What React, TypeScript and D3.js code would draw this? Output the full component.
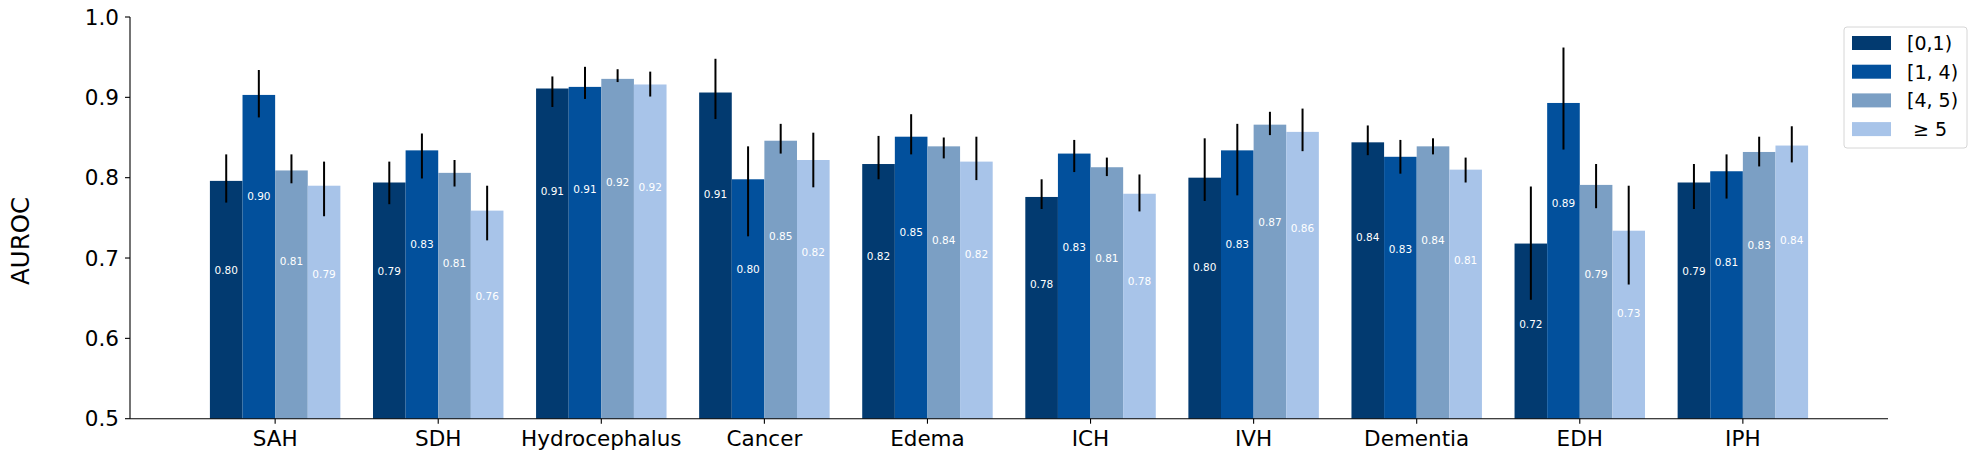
import React from "react";
import * as d3 from "d3";

// categories on the x axis
const categories = [
  "SAH",
  "SDH",
  "Hydrocephalus",
  "Cancer",
  "Edema",
  "ICH",
  "IVH",
  "Dementia",
  "EDH",
  "IPH",
];

const seriesNames = ["[0,1)", "[1, 4)", "[4, 5)", " \u2265 5"];
const seriesColors = ["#023a70", "#02509c", "#7b9fc4", "#a8c4e9"];

// AUROC per series, one value per category
const auroc = [
  [0.796, 0.794, 0.911, 0.906, 0.817, 0.776, 0.8, 0.844, 0.718, 0.794],
  [0.903, 0.834, 0.913, 0.798, 0.851, 0.83, 0.834, 0.826, 0.893, 0.808],
  [0.809, 0.806, 0.923, 0.846, 0.839, 0.813, 0.866, 0.839, 0.791, 0.832],
  [0.79, 0.759, 0.916, 0.822, 0.82, 0.78, 0.857, 0.81, 0.734, 0.84],
];

// confidence interval bounds
const ciLow = [
  [0.769, 0.767, 0.888, 0.873, 0.798, 0.761, 0.771, 0.828, 0.648, 0.761],
  [0.875, 0.799, 0.898, 0.727, 0.829, 0.807, 0.778, 0.805, 0.835, 0.774],
  [0.793, 0.789, 0.919, 0.83, 0.824, 0.802, 0.853, 0.829, 0.762, 0.814],
  [0.752, 0.722, 0.901, 0.788, 0.797, 0.758, 0.833, 0.794, 0.667, 0.819],
];
const ciHigh = [
  [0.829, 0.82, 0.926, 0.948, 0.852, 0.798, 0.849, 0.865, 0.789, 0.817],
  [0.934, 0.855, 0.938, 0.839, 0.879, 0.847, 0.867, 0.847, 0.962, 0.829],
  [0.829, 0.822, 0.935, 0.867, 0.85, 0.825, 0.882, 0.849, 0.817, 0.851],
  [0.82, 0.79, 0.932, 0.856, 0.851, 0.804, 0.886, 0.825, 0.79, 0.864],
];

const yTicks = [0.5, 0.6, 0.7, 0.8, 0.9, 1.0];

const W = 1976;
const H = 459;
const FONT = "DejaVu Sans, sans-serif";

export default function App() {
  const margin = { left: 130, right: 88, top: 17, bottom: 40 };
  const plotRight = W - margin.right;
  const plotBottom = H - margin.bottom - 0.3;

  const x0 = d3
    .scaleBand<string>()
    .domain(categories)
    .range([margin.left, plotRight])
    .paddingInner(0.2)
    .paddingOuter(0.49);

  const x1 = d3
    .scaleBand<number>()
    .domain(d3.range(seriesNames.length))
    .range([0, x0.bandwidth()]);

  const y = d3.scaleLinear().domain([0.5, 1.0]).range([plotBottom, margin.top]);

  const legendX = 1844;
  const legendY = 27;
  const rowH = 28.7;

  return (
    <div>
      <style>{`body{margin:0}`}</style>
      <svg width={W} height={H} style={{ display: "block", fontFamily: FONT }}>
        <rect width={W} height={H} fill="#fff" />

        {/* bars */}
        {seriesNames.map((_, s) =>
          categories.map((c, i) => {
            const v = auroc[s][i];
            const bx = (x0(c) ?? 0) + (x1(s) ?? 0);
            const bw = x1.bandwidth();
            return (
              <g key={`${s}-${i}`}>
                <rect
                  x={bx}
                  y={y(v)}
                  width={bw}
                  height={y(0.5) - y(v)}
                  fill={seriesColors[s]}
                />
                <line
                  x1={bx + bw / 2}
                  x2={bx + bw / 2}
                  y1={y(ciLow[s][i])}
                  y2={y(ciHigh[s][i])}
                  stroke="#000"
                  strokeWidth={2}
                />
                <text
                  x={bx + bw / 2}
                  y={y(v * 0.86)}
                  dy="0.35em"
                  textAnchor="middle"
                  fontSize={10.5}
                  fill="#fff"
                >
                  {v.toFixed(2)}
                </text>
              </g>
            );
          })
        )}

        {/* y axis */}
        <line
          x1={margin.left}
          x2={margin.left}
          y1={margin.top}
          y2={plotBottom}
          stroke="#000"
          strokeWidth={1.1}
        />
        {yTicks.map((t) => (
          <g key={t}>
            <line
              x1={margin.left - 5}
              x2={margin.left}
              y1={y(t)}
              y2={y(t)}
              stroke="#000"
              strokeWidth={1.1}
            />
            <text
              x={margin.left - 11}
              y={y(t)}
              dy="0.36em"
              textAnchor="end"
              fontSize={21.5}
              fill="#000"
            >
              {t.toFixed(1)}
            </text>
          </g>
        ))}
        <text
          transform={`translate(29,241) rotate(-90)`}
          textAnchor="middle"
          fontSize={24.5}
          fill="#000"
        >
          AUROC
        </text>

        {/* x axis */}
        <line
          x1={margin.left}
          x2={plotRight}
          y1={plotBottom}
          y2={plotBottom}
          stroke="#000"
          strokeWidth={1.1}
        />
        {categories.map((c) => {
          const cx = (x0(c) ?? 0) + x0.bandwidth() / 2;
          return (
            <g key={c}>
              <line
                x1={cx}
                x2={cx}
                y1={plotBottom}
                y2={plotBottom + 5}
                stroke="#000"
                strokeWidth={1.1}
              />
              <text x={cx} y={446} textAnchor="middle" fontSize={21.5} fill="#000">
                {c}
              </text>
            </g>
          );
        })}

        {/* legend */}
        <rect
          x={legendX}
          y={legendY}
          width={123}
          height={121}
          rx={3}
          fill="#fff"
          fillOpacity={0.8}
          stroke="#d6d6d6"
          strokeWidth={1}
        />
        {seriesNames.map((name, s) => (
          <g key={name}>
            <rect
              x={1852}
              y={legendY + 9 + s * rowH}
              width={39}
              height={14}
              fill={seriesColors[s]}
            />
            <text
              x={1907}
              y={legendY + 16 + s * rowH}
              dy="0.36em"
              fontSize={19}
              fill="#000"
              style={{ whiteSpace: "pre" }}
            >
              {name}
            </text>
          </g>
        ))}
      </svg>
    </div>
  );
}
